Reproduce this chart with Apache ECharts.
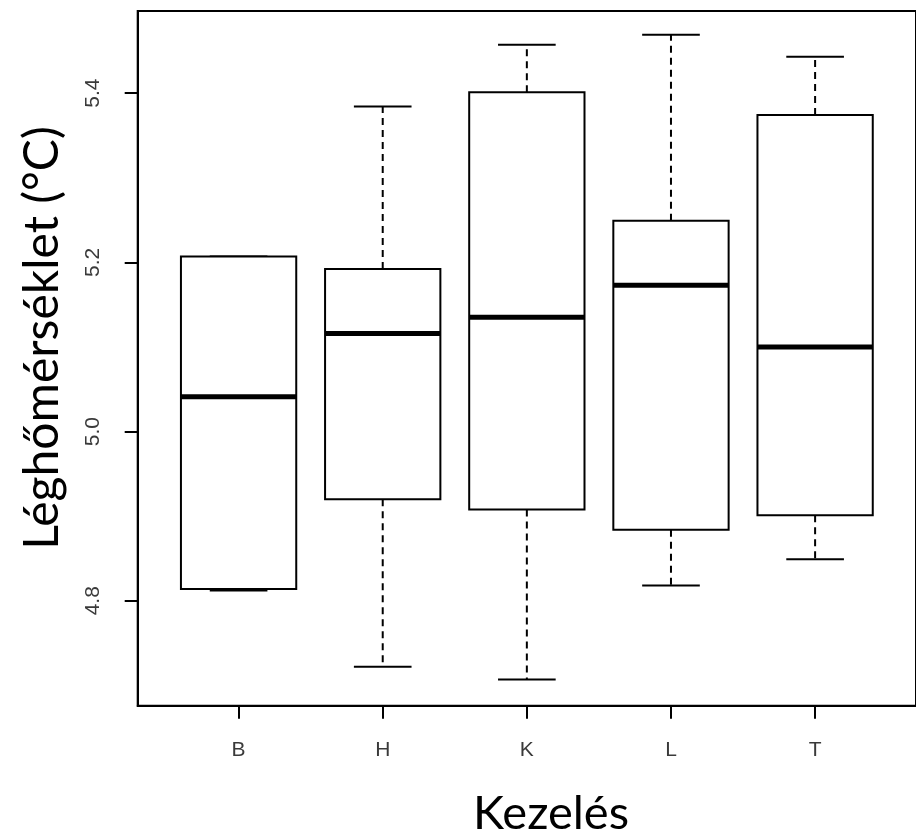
<!DOCTYPE html>
<html>
<head>
<meta charset="utf-8">
<script src="https://cdn.jsdelivr.net/npm/echarts@6/dist/echarts.min.js"></script>
<style>
  html, body { margin: 0; padding: 0; background: #fff; }
  #chart { width: 916px; height: 835px; }
</style>
</head>
<body>
<div id="chart"></div>
<script>
// Air temperature by treatment: five-number summaries per group
const categories = ['B', 'H', 'K', 'L', 'T'];
const lowerWhisker = [4.812, 4.722, 4.707, 4.818, 4.849];
const lowerQuartile = [4.814, 4.920, 4.908, 4.884, 4.901];
const medianValues = [5.041, 5.116, 5.135, 5.173, 5.100];
const upperQuartile = [5.207, 5.192, 5.401, 5.249, 5.374];
const upperWhisker = [5.207, 5.384, 5.457, 5.469, 5.443];
const yTicks = [4.8, 5.0, 5.2, 5.4];

const positions = categories.map((c, i) => i + 1);
const boxData = categories.map((c, i) => [
  positions[i], lowerWhisker[i], lowerQuartile[i], medianValues[i], upperQuartile[i], upperWhisker[i]
]);

const tickFont = { fontFamily: 'Liberation Sans, Arial, sans-serif', fontSize: 21, color: '#3a3a3a' };
const titleFont = 'Lato, "Open Sans", sans-serif';

function renderBox(params, api) {
  const x = api.value(0);
  const lo = api.coord([x, api.value(1)]);
  const q1 = api.coord([x, api.value(2)]);
  const md = api.coord([x, api.value(3)]);
  const q3 = api.coord([x, api.value(4)]);
  const hi = api.coord([x, api.value(5)]);
  const half = api.size([0.8, 0])[0] / 2;
  const capHalf = half / 2;
  const cx = md[0];
  const solid = { stroke: '#000', lineWidth: 2, fill: null };
  const dashed = { stroke: '#000', lineWidth: 2, lineDash: [7, 5], fill: null };
  const children = [];
  if (hi[1] < q3[1] - 1) {
    children.push({ type: 'line', shape: { x1: cx, y1: q3[1], x2: cx, y2: hi[1] }, style: dashed });
  }
  if (lo[1] > q1[1] + 1) {
    children.push({ type: 'line', shape: { x1: cx, y1: q1[1], x2: cx, y2: lo[1] }, style: dashed });
  }
  children.push({ type: 'line', shape: { x1: cx - capHalf, y1: hi[1], x2: cx + capHalf, y2: hi[1] }, style: solid });
  children.push({ type: 'line', shape: { x1: cx - capHalf, y1: lo[1], x2: cx + capHalf, y2: lo[1] }, style: solid });
  children.push({
    type: 'rect',
    shape: { x: cx - half, y: q3[1], width: half * 2, height: q1[1] - q3[1] },
    style: { stroke: '#000', lineWidth: 2, fill: '#fff' }
  });
  children.push({ type: 'line', shape: { x1: cx - half, y1: md[1], x2: cx + half, y2: md[1] }, style: { stroke: '#000', lineWidth: 5 } });
  return { type: 'group', children: children };
}

const chart = echarts.init(document.getElementById('chart'), null, { renderer: 'canvas' });
chart.setOption({
  animation: false,
  backgroundColor: '#fff',
  grid: {
    left: 137.7, top: 11, right: -4, bottom: 129.3,
    show: true, borderColor: '#000', borderWidth: 2, backgroundColor: 'transparent'
  },
  xAxis: {
    type: 'value', min: 0.3, max: 5.7,
    axisLine: { show: true, lineStyle: { color: '#000', width: 2 } },
    axisTick: { show: true, customValues: positions, length: 13, lineStyle: { color: '#000', width: 2 } },
    axisLabel: Object.assign({
      customValues: positions, margin: 34,
      formatter: v => categories[Math.round(v) - 1]
    }, tickFont),
    splitLine: { show: false }
  },
  yAxis: {
    type: 'value', min: 4.676, max: 5.497,
    axisLine: { show: true, lineStyle: { color: '#000', width: 2 } },
    axisTick: { show: true, customValues: yTicks, length: 13, lineStyle: { color: '#000', width: 2 } },
    axisLabel: Object.assign({
      customValues: yTicks, margin: 34, rotate: 90,
      formatter: v => Number(v).toFixed(1)
    }, tickFont),
    splitLine: { show: false }
  },
  graphic: [
    {
      type: 'text', x: 551, y: 814,
      style: { text: 'Kezelés', font: '47px ' + titleFont, fill: '#000', align: 'center', verticalAlign: 'middle' }
    },
    {
      type: 'text', x: 43, y: 338, rotation: Math.PI / 2,
      style: { text: 'Léghőmérséklet (°C)', font: '48px ' + titleFont, fill: '#000', align: 'center', verticalAlign: 'middle' }
    }
  ],
  series: [{
    type: 'custom',
    renderItem: renderBox,
    data: boxData,
    encode: { x: 0, y: [1, 2, 3, 4, 5] },
    clip: false
  }]
});
</script>
</body>
</html>
